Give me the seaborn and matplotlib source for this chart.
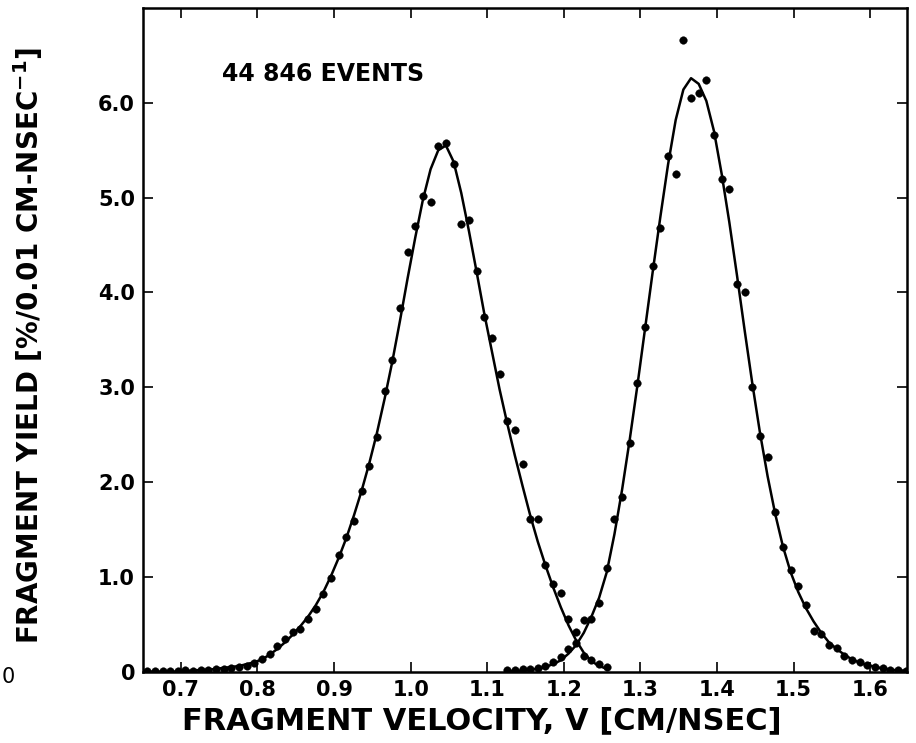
import numpy as np
import pandas as pd
import matplotlib
matplotlib.use("Agg")
import matplotlib.pyplot as plt
import seaborn as sns

# ---------------- data ----------------
light_v = [0.656, 0.666, 0.676, 0.686, 0.696, 0.706, 0.716, 0.726, 0.736, 0.746,
           0.756, 0.766, 0.776, 0.786, 0.796, 0.806, 0.816, 0.826, 0.836, 0.846,
           0.856, 0.866, 0.876, 0.886, 0.896, 0.906, 0.916, 0.926, 0.936, 0.946,
           0.956, 0.966, 0.976, 0.986, 0.996, 1.006, 1.016, 1.026, 1.036, 1.046,
           1.056, 1.066, 1.076, 1.086, 1.096, 1.106, 1.116, 1.126, 1.136, 1.146,
           1.156, 1.166, 1.176, 1.186, 1.196, 1.206, 1.216, 1.226, 1.236, 1.246,
           1.256]
light_pts = [0.01, 0.01, 0.01, 0.01, 0.01, 0.02, 0.01, 0.02, 0.02, 0.03,
             0.03, 0.04, 0.05, 0.06, 0.09, 0.13, 0.19, 0.27, 0.34, 0.42,
             0.45, 0.56, 0.66, 0.82, 0.99, 1.23, 1.42, 1.59, 1.91, 2.17,
             2.48, 2.96, 3.29, 3.84, 4.43, 4.70, 5.02, 4.95, 5.54, 5.58,
             5.35, 4.72, 4.76, 4.23, 3.74, 3.52, 3.14, 2.64, 2.55, 2.19,
             1.61, 1.61, 1.13, 0.93, 0.83, 0.56, 0.30, 0.17, 0.12, 0.08,
             0.05]
light_fit = [0.00, 0.00, 0.00, 0.00, 0.00, 0.01, 0.01, 0.02, 0.02, 0.03,
             0.04, 0.05, 0.06, 0.08, 0.10, 0.13, 0.18, 0.24, 0.31, 0.39,
             0.48, 0.58, 0.70, 0.84, 1.01, 1.20, 1.41, 1.65, 1.91, 2.20,
             2.52, 2.88, 3.27, 3.70, 4.15, 4.58, 4.98, 5.30, 5.50, 5.55,
             5.38, 5.05, 4.65, 4.22, 3.78, 3.38, 2.98, 2.62, 2.28, 1.96,
             1.65, 1.37, 1.12, 0.89, 0.68, 0.49, 0.33, 0.20, 0.11, 0.06,
             0.03]

heavy_v = [1.126, 1.136, 1.146, 1.156, 1.166, 1.176, 1.186, 1.196, 1.206, 1.216,
           1.226, 1.236, 1.246, 1.256, 1.266, 1.276, 1.286, 1.296, 1.306, 1.316,
           1.326, 1.336, 1.346, 1.356, 1.366, 1.376, 1.386, 1.396, 1.406, 1.416,
           1.426, 1.436, 1.446, 1.456, 1.466, 1.476, 1.486, 1.496, 1.506, 1.516,
           1.526, 1.536, 1.546, 1.556, 1.566, 1.576, 1.586, 1.596, 1.606, 1.616,
           1.626, 1.636, 1.646]
heavy_pts = [0.02, 0.02, 0.03, 0.03, 0.04, 0.06, 0.10, 0.16, 0.24, 0.42,
             0.55, 0.56, 0.72, 1.09, 1.61, 1.84, 2.41, 3.05, 3.64, 4.28,
             4.68, 5.44, 5.25, 6.66, 6.05, 6.10, 6.24, 5.66, 5.20, 5.09,
             4.09, 4.00, 3.00, 2.49, 2.26, 1.68, 1.31, 1.07, 0.90, 0.70,
             0.43, 0.40, 0.28, 0.25, 0.17, 0.12, 0.10, 0.07, 0.05, 0.04,
             0.02, 0.02, 0.01]
heavy_fit = [0.00, 0.01, 0.01, 0.02, 0.03, 0.05, 0.08, 0.12, 0.19, 0.28,
             0.41, 0.58, 0.78, 1.05, 1.45, 1.92, 2.45, 3.02, 3.62, 4.22,
             4.80, 5.35, 5.82, 6.14, 6.26, 6.20, 6.02, 5.70, 5.25, 4.74,
             4.18, 3.60, 3.04, 2.52, 2.06, 1.66, 1.32, 1.05, 0.84, 0.67,
             0.53, 0.41, 0.31, 0.24, 0.18, 0.13, 0.095, 0.07, 0.05, 0.035,
             0.02, 0.015, 0.01]

x_ticks = [0.7, 0.8, 0.9, 1.0, 1.1, 1.2, 1.3, 1.4, 1.5, 1.6]
x_tick_labels = ["0.7", "0.8", "0.9", "1.0", "1.1", "1.2", "1.3", "1.4", "1.5", "1.6"]
y_ticks = [0, 1, 2, 3, 4, 5, 6]
y_tick_labels = ["0", "1.0", "2.0", "3.0", "4.0", "5.0", "6.0"]

# ---------------- plotting ----------------
sns.set_theme(style="ticks")
plt.rcParams["font.family"] = ["DejaVu Sans"]
plt.rcParams["mathtext.default"] = "bf"
plt.rcParams["text.color"] = "black"
plt.rcParams["xtick.color"] = "black"
plt.rcParams["ytick.color"] = "black"
plt.rcParams["xtick.labelcolor"] = "black"
plt.rcParams["ytick.labelcolor"] = "black"

fig = plt.figure(figsize=(9.16, 7.43), dpi=100)
ax = fig.add_axes([0.1565, 0.0960, 0.8333, 0.8932])

light_df = pd.DataFrame({"v": light_v, "pts": light_pts, "fit": light_fit})
heavy_df = pd.DataFrame({"v": heavy_v, "pts": heavy_pts, "fit": heavy_fit})

for df in (light_df, heavy_df):
    sns.lineplot(data=df, x="v", y="fit", ax=ax, color="black", linewidth=1.8,
                 estimator=None, sort=True)
    sns.scatterplot(data=df, x="v", y="pts", ax=ax, color="black", s=30,
                    edgecolor="black", linewidth=0.3, zorder=3)

ax.set_xlim(0.651, 1.6475)
ax.set_ylim(0, 7.0)
ax.set_xticks(x_ticks)
ax.set_xticklabels(x_tick_labels)
ax.set_yticks(y_ticks)
ax.set_yticklabels(y_tick_labels)
ax.tick_params(direction="in", top=True, right=True, length=7, width=1.2,
               labelsize=15, pad=6, colors="black")
for lab in ax.get_xticklabels() + ax.get_yticklabels():
    lab.set_fontweight("bold")
    lab.set_color("black")
for sp in ax.spines.values():
    sp.set_linewidth(1.8)
    sp.set_color("black")
    sp.set_visible(True)
ax.set_xlabel("")
ax.set_ylabel("")

ax.text(0.754, 6.30, "44 846 EVENTS", fontsize=17, fontweight="bold",
        ha="left", va="center", color="black")

fig.text(0.526, 0.030, "FRAGMENT VELOCITY, V [CM/NSEC]", fontsize=22,
         fontweight="bold", ha="center", va="center", color="black")
fig.text(0.031, 0.535, r"FRAGMENT YIELD [%/0.01 CM-NSEC$^{-1}$]", fontsize=20,
         fontweight="bold", ha="center", va="center", rotation=90, color="black")
fig.text(0.002, 0.089, "0", fontsize=15, ha="left", va="center", color="black")

fig.savefig("out.png", dpi=100, facecolor="white")
